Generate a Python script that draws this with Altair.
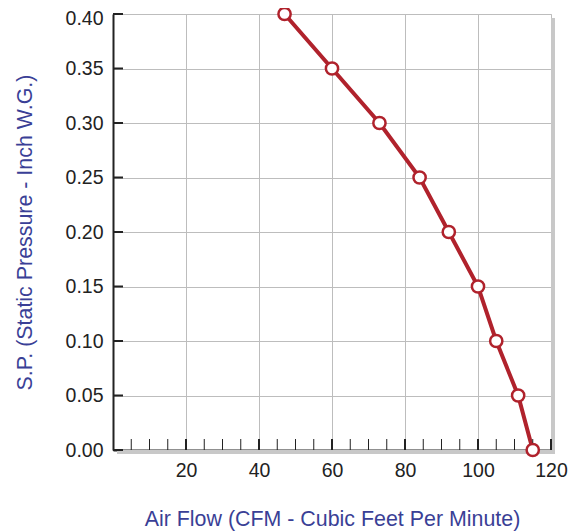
import altair as alt
import pandas as pd

air_flow = [47, 60, 73, 84, 92, 100, 105, 111, 115]
static_pressure = [0.40, 0.35, 0.30, 0.25, 0.20, 0.15, 0.10, 0.05, 0.00]
x_major = [20, 40, 60, 80, 100, 120]
x_minor = [5, 10, 15, 25, 30, 35, 45, 50, 55, 65, 70, 75, 85, 90, 95, 105, 110, 115]
y_ticks = [0.0, 0.05, 0.10, 0.15, 0.20, 0.25, 0.30, 0.35, 0.40]

W, H = 438, 436
RED = "#b0222c"
BLUE = "#3a3f96"
FONT = "Liberation Sans"

df = pd.DataFrame({"flow": air_flow, "sp": static_pressure})

xs = alt.Scale(domain=[0, 120], nice=False, zero=False)
ys = alt.Scale(domain=[0, 0.40], nice=False, zero=False)

x_axis = alt.Axis(values=x_major, format="d", ticks=False, grid=True, gridColor="#bdbdbd",
                  domain=True, domainColor="#222222", domainWidth=2, labelFlush=False,
                  labelFontSize=19.5, labelFont=FONT, labelColor="#222222", labelPadding=11,
                  title="Air Flow (CFM - Cubic Feet Per Minute)", titleFont=FONT,
                  titleFontSize=21.4, titleFontWeight="normal", titleColor=BLUE, titlePadding=29)
y_axis = alt.Axis(values=y_ticks, format=".2f", ticks=False, grid=True, gridColor="#bdbdbd",
                  domain=True, domainColor="#222222", domainWidth=2, labelFlush=False,
                  labelOffset={"condition": {"test": "datum.value > 0.39", "value": 4}, "value": 0},
                  labelFontSize=19.5, labelFont=FONT, labelColor="#222222", labelPadding=10,
                  title="S.P. (Static Pressure - Inch W.G.)", titleFont=FONT,
                  titleFontSize=21.4, titleFontWeight="normal", titleColor=BLUE, titlePadding=30)

base = alt.Chart(df)

shadow_r = alt.Chart(pd.DataFrame({"a": [0]})).mark_rect(color="#c8c8c8").encode(
    x=alt.value(W), x2=alt.value(W + 4), y=alt.value(4), y2=alt.value(H + 4))
shadow_b = alt.Chart(pd.DataFrame({"a": [0]})).mark_rect(color="#c8c8c8").encode(
    x=alt.value(4), x2=alt.value(W + 4), y=alt.value(H), y2=alt.value(H + 4))

line = base.mark_line(color=RED, strokeWidth=4).encode(
    x=alt.X("flow:Q", scale=xs, axis=x_axis),
    y=alt.Y("sp:Q", scale=ys, axis=y_axis),
)
pts = base.mark_point(filled=True, fill="white", stroke=RED, strokeWidth=2.5, size=150, opacity=1).encode(
    x=alt.X("flow:Q", scale=xs), y=alt.Y("sp:Q", scale=ys))

xmaj = alt.Chart(pd.DataFrame({"v": x_major})).mark_rule(color="#222222", strokeWidth=2).encode(
    x=alt.X("v:Q", scale=xs), y=alt.value(H - 11), y2=alt.value(H))
xmin = alt.Chart(pd.DataFrame({"v": x_minor})).mark_rule(color="#222222", strokeWidth=1).encode(
    x=alt.X("v:Q", scale=xs), y=alt.value(H - 11), y2=alt.value(H))
ytk = alt.Chart(pd.DataFrame({"v": y_ticks})).mark_rule(color="#222222", strokeWidth=2).encode(
    y=alt.Y("v:Q", scale=ys), x=alt.value(0), x2=alt.value(10))

chart = alt.layer(shadow_r, shadow_b, line, xmaj, xmin, ytk, pts).properties(
    width=W, height=H,
    autosize=alt.AutoSizeParams(type="none"),
    padding={"left": 105, "top": 6, "right": 20, "bottom": 81},
).configure_view(fill="#f2f2f2", stroke="#b4b4b4", strokeWidth=1.5).configure(background="white")

chart.save("out.html", embed_options={"renderer": "svg", "actions": False})
